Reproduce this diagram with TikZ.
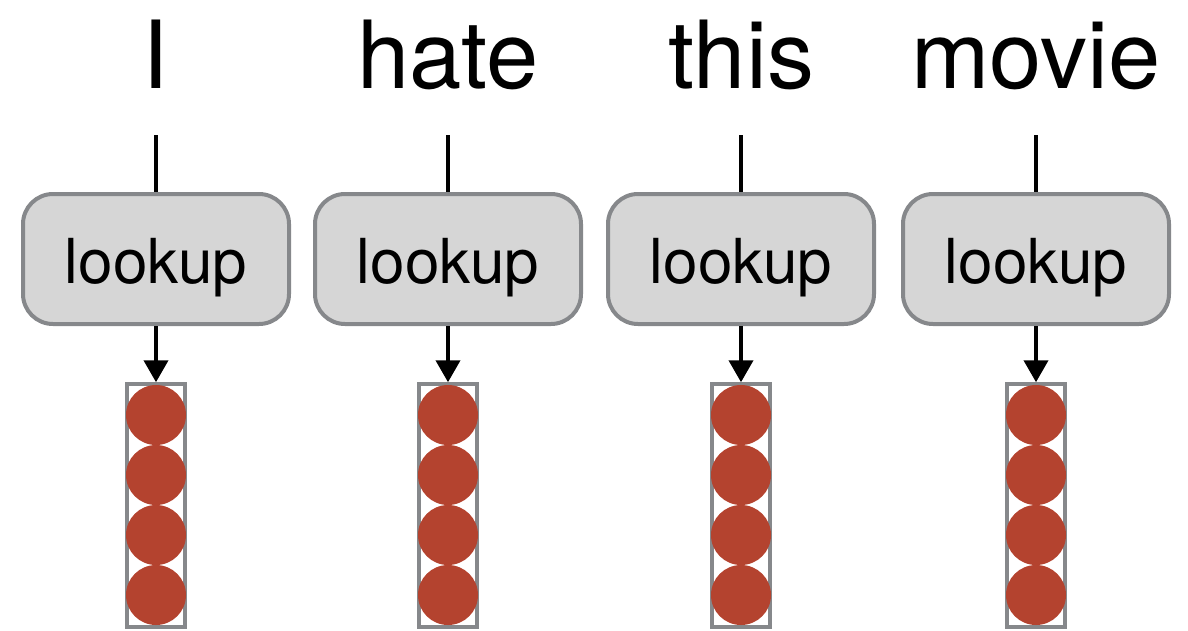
\documentclass[tikz,border=0pt]{standalone}
\usepackage{fontspec}
\setmainfont{TeX Gyre Heros}
\usetikzlibrary{arrows.meta}
\definecolor{boxfill}{HTML}{D6D6D6}
\definecolor{boxdraw}{HTML}{86888B}
\definecolor{dotred}{HTML}{B4432F}
\tikzset{
  word/.style={anchor=base, inner sep=0pt, font=\fontsize{94}{100}\selectfont},
  lookupbox/.style={draw=boxdraw, fill=boxfill, line width=4pt, rounded corners=30pt,
    minimum width=266pt, minimum height=130pt, inner sep=0pt, text height=60pt, text depth=12pt,
    font=\fontsize{62}{70}\selectfont},
  vecbox/.style={draw=boxdraw, line width=3.5pt, minimum width=58pt, minimum height=243pt, inner sep=0pt},
  dot/.style={circle, fill=dotred, minimum size=60pt, inner sep=0pt},
  feed/.style={line width=4pt},
  feedarrow/.style={line width=4pt, -{Triangle[length=22pt,width=24pt]}},
}
\begin{document}
\begin{tikzpicture}[x=1pt,y=-1pt]
\useasboundingbox (0,0) rectangle (1188,630);
\foreach \i/\x/\w in {1/156/I,2/448/hate,3/741/this,4/1036/movie}{
  \node[word] (w\i) at (\x,88) {\w};
  \coordinate (t\i) at (\x,135);
  \node[lookupbox] (b\i) at (\x,259) {lookup};
  \node[vecbox] (v\i) at (\x,505.5) {};
  \foreach \k/\y in {1/415,2/475,3/535,4/595}{
    \node[dot] (d\i\k) at (\x,\y) {};
  }
  \draw[feed] (t\i) -- (b\i.north);
  \draw[feedarrow] (b\i.south) -- (v\i.north);
}
\end{tikzpicture}
\end{document}
